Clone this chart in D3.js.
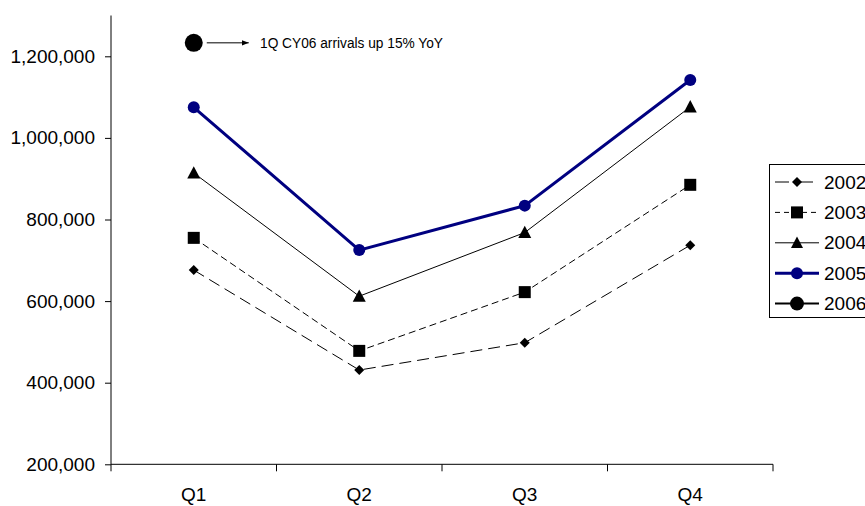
<!DOCTYPE html>
<html>
<head>
<meta charset="utf-8">
<script src="https://cdn.jsdelivr.net/npm/d3@7"></script>
<style>
  html, body { margin: 0; padding: 0; background: #fff; }
  svg text { font-family: "Liberation Sans Narrow", "Arial Narrow", "Liberation Sans", Arial, sans-serif; fill: #000; }
</style>
</head>
<body>
<svg id="chart" width="865" height="506"></svg>
<script>
// Quarterly visitor arrivals by year
const quarters = ["Q1", "Q2", "Q3", "Q4"];
const years = ["2002", "2003", "2004", "2005", "2006"];
const arrivals2002 = [676000, 431000, 498000, 737000];
const arrivals2003 = [755000, 478000, 622000, 885000];
const arrivals2004 = [914000, 612000, 768000, 1076000];
const arrivals2005 = [1075000, 725000, 834000, 1142000];
const arrivals2006 = [1233000];
const yTicks = [200000, 400000, 600000, 800000, 1000000, 1200000];
const note = "1Q CY06 arrivals up 15% YoY";

const seriesData = [arrivals2002, arrivals2003, arrivals2004, arrivals2005, arrivals2006];
const styles = [
  { color: "#000", width: 1, dash: "12,6", marker: "diamond", size: 10, legendSize: 10 },
  { color: "#000", width: 1, dash: "7,4", marker: "square", size: 12, legendSize: 12 },
  { color: "#000", width: 1, dash: null, marker: "triangle", size: 13, legendSize: 12 },
  { color: "#000080", width: 3, dash: null, marker: "circle", size: 12, legendSize: 12 },
  { color: "#000", width: 2, dash: null, marker: "circle", size: 18, legendSize: 14 }
];

const svg = d3.select("#chart");
const plotLeft = 111, plotRight = 773, plotTop = 15.5, plotBottom = 464.3;

const x = d3.scaleBand().domain(quarters).range([plotLeft, plotRight]).padding(0);
const y = d3.scaleLinear().domain([200000, 1300000]).range([plotBottom, plotTop]);
const fmt = d3.format(",");

// Y axis
const yAxis = svg.append("g").attr("transform", `translate(${plotLeft},0)`)
  .call(d3.axisLeft(y).tickValues(yTicks).tickFormat(fmt).tickSize(6).tickPadding(10));
yAxis.select(".domain").attr("d", `M0,${plotTop}V${plotBottom}`).attr("stroke", "#000");
yAxis.selectAll(".tick line").attr("stroke", "#000");
yAxis.selectAll(".tick text").attr("font-size", 19).attr("fill", "#000");
yAxis.attr("font-family", null);

// X axis with ticks between categories
const xAxis = svg.append("g").attr("transform", `translate(0,${plotBottom})`);
xAxis.append("line").attr("x1", plotLeft).attr("x2", plotRight).attr("stroke", "#000");
const edges = quarters.map(q => x(q)).concat([x(quarters[quarters.length - 1]) + x.bandwidth()]);
xAxis.selectAll("line.tk").data(edges).join("line").attr("class", "tk")
  .attr("x1", d => d).attr("x2", d => d).attr("y1", 0).attr("y2", 7).attr("stroke", "#000");
xAxis.selectAll("text").data(quarters).join("text")
  .attr("x", d => x(d) + x.bandwidth() / 2).attr("y", 37)
  .attr("text-anchor", "middle").attr("font-size", 19).text(d => d);

function markerPath(type, size) {
  const s = size / 2;
  if (type === "diamond") return `M0,${-s}L${s},0L0,${s}L${-s},0Z`;
  if (type === "square") return `M${-s},${-s}H${s}V${s}H${-s}Z`;
  if (type === "triangle") return `M0,${-s * 1.05}L${s},${s * 0.85}L${-s},${s * 0.85}Z`;
  return d3.symbol(d3.symbolCircle, Math.PI * s * s)();
}

const cx = d => x(quarters[d]) + x.bandwidth() / 2;
const line = d3.line().x((d, i) => cx(i)).y(d => y(d));

seriesData.forEach((vals, k) => {
  const st = styles[k];
  const g = svg.append("g");
  if (vals.length > 1) {
    g.append("path").attr("d", line(vals)).attr("fill", "none")
      .attr("stroke", st.color).attr("stroke-width", st.width)
      .attr("stroke-dasharray", st.dash);
  }
  g.selectAll("path.m").data(vals).join("path").attr("class", "m")
    .attr("transform", (d, i) => `translate(${cx(i)},${y(d)})`)
    .attr("d", markerPath(st.marker, st.size)).attr("fill", st.color);
});

// Annotation for the 2006 point
const p6 = { x: cx(0), y: y(arrivals2006[0]) };
svg.append("defs").append("marker").attr("id", "arrow").attr("viewBox", "0 0 10 10")
  .attr("refX", 10).attr("refY", 5).attr("markerWidth", 7).attr("markerHeight", 7)
  .attr("markerUnits", "userSpaceOnUse").attr("orient", "auto")
  .append("path").attr("d", "M0,1L10,5L0,9Z").attr("fill", "#000");
svg.append("line").attr("x1", p6.x + 13).attr("x2", p6.x + 55)
  .attr("y1", p6.y).attr("y2", p6.y).attr("stroke", "#000").attr("stroke-width", 1)
  .attr("marker-end", "url(#arrow)");
svg.append("text").attr("x", 260).attr("y", p6.y + 5).attr("font-size", 14)
  .attr("textLength", 183).attr("lengthAdjust", "spacingAndGlyphs").text(note);

// Legend
const lg = svg.append("g").attr("transform", "translate(769,164)");
lg.append("rect").attr("x", 0.5).attr("y", 0.5).attr("width", 110).attr("height", 153)
  .attr("fill", "#fff").attr("stroke", "#000");
years.forEach((yr, k) => {
  const st = styles[k];
  const row = lg.append("g").attr("transform", `translate(0,${18 + k * 30.4})`);
  row.append("line").attr("x1", 6).attr("x2", 50).attr("stroke", st.color)
    .attr("stroke-width", st.width).attr("stroke-dasharray", k === 1 ? "5,4" : (k === 0 ? "14,10" : null));
  row.append("path").attr("transform", "translate(28,0)")
    .attr("d", markerPath(st.marker, st.legendSize)).attr("fill", st.color);
  row.append("text").attr("x", 55).attr("y", 0).attr("dy", "0.35em").attr("font-size", 19).text(yr);
});
</script>
</body>
</html>
